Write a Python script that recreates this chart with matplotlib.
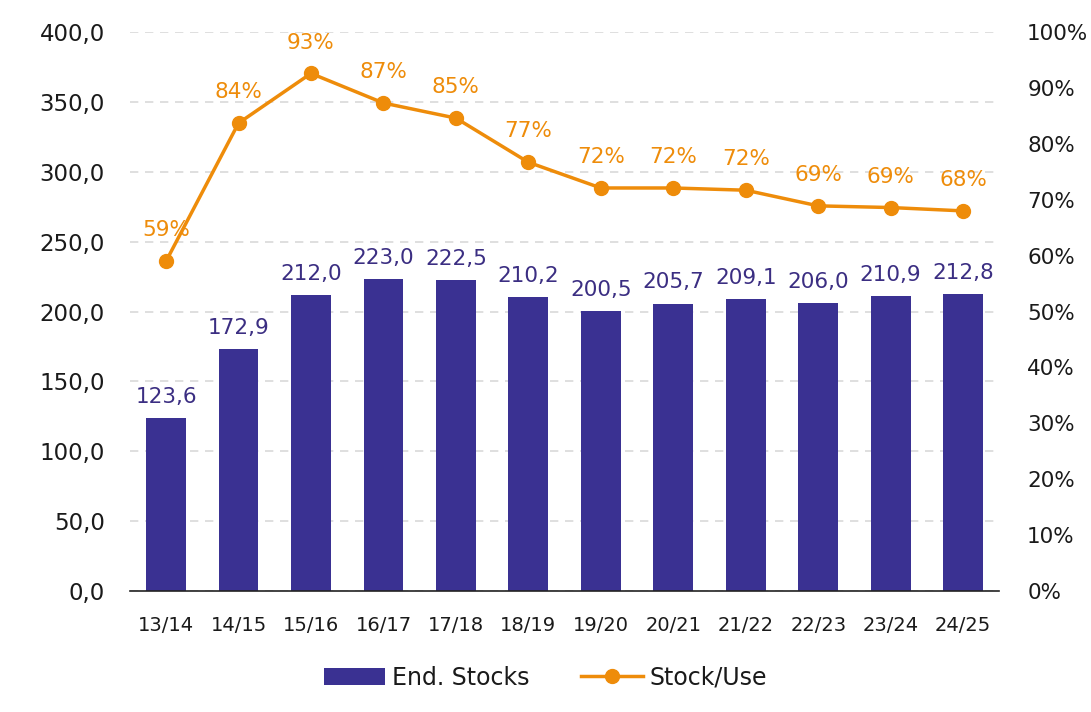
import numpy as np
import matplotlib
matplotlib.use("Agg")
import matplotlib.pyplot as plt
from matplotlib.ticker import FuncFormatter, MultipleLocator

plt.rcParams['font.family'] = ['DejaVu Sans']

# data
seasons = ["13/14", "14/15", "15/16", "16/17", "17/18", "18/19",
           "19/20", "20/21", "21/22", "22/23", "23/24", "24/25"]
end_stocks = [123.6, 172.9, 212.0, 223.0, 222.5, 210.2,
              200.5, 205.7, 209.1, 206.0, 210.9, 212.8]
stock_use = [59.0, 83.7, 92.6, 87.3, 84.6, 76.7,
             72.1, 72.1, 71.7, 68.9, 68.6, 68.0]

bar_color = "#3a3192"
label_purple = "#3b2e82"
orange = "#ee8c0a"

fig, ax = plt.subplots(figsize=(10.91, 7.12), dpi=100)
fig.subplots_adjust(left=0.119, right=0.916, top=0.955, bottom=0.17)

x = np.arange(len(seasons))
bars = ax.bar(x, end_stocks, width=0.55, color=bar_color, zorder=2,
              label="End. Stocks")
ax.set_ylim(0, 400)
ax.set_xlim(-0.5, len(seasons) - 0.5)
ax.yaxis.set_major_locator(MultipleLocator(50))
ax.yaxis.set_major_formatter(FuncFormatter(lambda v, p: f"{v:.1f}".replace(".", ",")))
ax.grid(axis="y", color="#d9d9d9", linestyle=(0, (5, 4)), linewidth=1.2, zorder=0)
ax.set_xticks(x)
ax.set_xticklabels(seasons)
for s in ["top", "right", "left"]:
    ax.spines[s].set_visible(False)
ax.spines["bottom"].set_color("#222222")
ax.spines["bottom"].set_linewidth(1.2)
ax.tick_params(axis="y", length=0, labelsize=16.5, colors="#1a1a1a", pad=18)
ax.tick_params(axis="x", length=0, labelsize=14, colors="#1a1a1a", pad=18)

for xi, v in zip(x, end_stocks):
    ax.annotate(f"{v:.1f}".replace(".", ","), (xi, v), xytext=(0, 8),
                textcoords="offset points", ha="center", va="bottom",
                fontsize=15.5, color=label_purple)

ax2 = ax.twinx()
line, = ax2.plot(x, stock_use, color=orange, linewidth=2.5, marker="o",
                 markersize=10, zorder=3, label="Stock/Use")
ax2.set_ylim(0, 100)
ax2.yaxis.set_major_locator(MultipleLocator(10))
ax2.yaxis.set_major_formatter(FuncFormatter(lambda v, p: f"{v:.0f}%"))
for s in ["top", "right", "left", "bottom"]:
    ax2.spines[s].set_visible(False)
ax2.tick_params(axis="y", length=0, labelsize=15.5, colors="#1a1a1a", pad=20)

for xi, v in zip(x, stock_use):
    ax2.annotate(f"{v:.0f}%", (xi, v), xytext=(0, 15),
                 textcoords="offset points", ha="center", va="bottom",
                 fontsize=15.5, color=orange)

fig.legend([bars, line], ["End. Stocks", "Stock/Use"], loc="center",
           bbox_to_anchor=(0.5, 0.048), ncol=2, frameon=False, fontsize=17,
           handlelength=2.6, handleheight=0.75, handletextpad=0.3,
           columnspacing=2.2, labelcolor="#1a1a1a")

fig.savefig("out.png", dpi=100, facecolor="white")
